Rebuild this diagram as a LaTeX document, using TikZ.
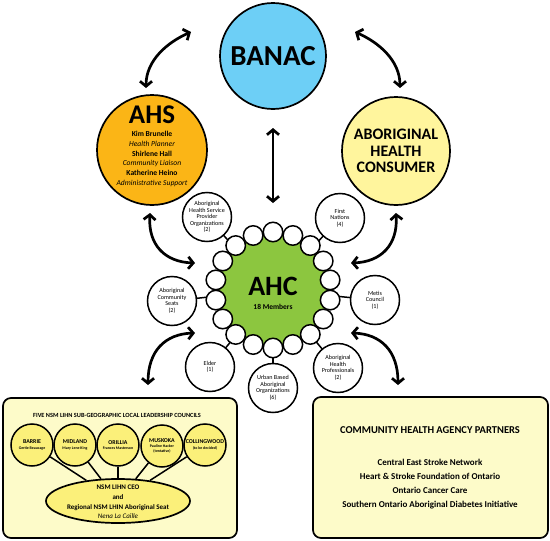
\documentclass[tikz,border=0pt]{standalone}
\usepackage{fontspec}
\setmainfont{Carlito}
\usetikzlibrary{arrows.meta,shapes.geometric,calc}
\pgfdeclarelayer{bg}
\pgfdeclarelayer{boxes}
\pgfdeclarelayer{links}
\pgfsetlayers{bg,boxes,links,main}
\definecolor{banacblue}{HTML}{6DCFF6}
\definecolor{ahsorange}{HTML}{FBB516}
\definecolor{consyellow}{HTML}{FFF59D}
\definecolor{ahcgreen}{HTML}{8CC63F}
\definecolor{boxcream}{HTML}{FDFBC9}
\definecolor{councilyellow}{HTML}{FBF07A}
\begin{document}
\begin{tikzpicture}[x=1pt,y=-1pt,
  bigc/.style={circle, draw, line width=1.7pt, inner sep=0pt, minimum size=#1},
  sat/.style={circle, draw, line width=1.5pt, fill=white, minimum size=49pt, inner sep=0pt, align=center, font=\fontsize{6.1}{6.6}\selectfont},
  bead/.style={circle, draw, line width=1.5pt, fill=white, minimum size=19.5pt, inner sep=0pt},
  council/.style={circle, draw, line width=1.5pt, fill=councilyellow, minimum size=42pt, inner sep=0pt, align=center, font=\fontsize{5.9}{6.3}\selectfont\bfseries},
  cname/.style={font=\fontsize{3.9}{4.6}\selectfont},
  linkline/.style={line width=1.5pt},
  dbl/.style={line width=2.7pt, {Straight Barb[length=5pt,width=12pt]}-{Straight Barb[length=5pt,width=12pt]}},
  panel/.style={draw, line width=1.7pt, rounded corners=8pt, fill=boxcream}
]
\begin{pgfonlayer}{bg}
\fill[white] (0,0) rectangle (550,541);
\end{pgfonlayer}
\useasboundingbox (0,0) rectangle (550,541);

% top circles
\node[bigc=106pt, fill=banacblue, font=\fontsize{29}{29}\selectfont\bfseries] (banac) at (273,56) {BANAC};
\node[bigc=110pt, fill=ahsorange] (ahs) at (152,150) {};
\node[font=\fontsize{27}{27}\selectfont\bfseries, inner sep=0pt] (ahst) at (152,115) {AHS};
\node[align=center, inner sep=0pt, font=\fontsize{7.6}{9.7}\selectfont] (ahsnames) at (152,159)
  {\textbf{Kim Brunelle}\\\textit{Health Planner}\\\textbf{Shirlene Hall}\\\textit{Community Liaison}\\\textbf{Katherine Heino}\\\textit{Administrative Support}};
\node[bigc=108pt, fill=consyellow, align=center, font=\fontsize{16}{16.5}\selectfont\bfseries] (cons) at (396,151) {ABORIGINAL\\HEALTH\\CONSUMER};

% AHC
\node[circle, draw, line width=1.7pt, fill=ahcgreen, minimum size=114pt, inner sep=0pt] (ahc) at (273,290) {};
\foreach \i in {0,...,17} {
  \node[bead] (b\i) at ($(ahc)+({10+20*\i}:58)$) {};
}
\node[font=\fontsize{28}{28}\selectfont\bfseries, inner sep=0pt] (ahct) at (273,286) {AHC};
\node[font=\fontsize{7.5}{8}\selectfont\bfseries, inner sep=0pt] (ahcm) at (273,307) {18 Members};

% satellites
\node[sat] (hsp) at (207,217) {Aboriginal\\Health Service\\Provider\\Organizations\\(2)};
\node[sat] (fn) at (340,218) {First\\Nations\\(4)};
\node[sat] (acs) at (172,301) {Aboriginal\\Community\\Seats\\(2)};
\node[sat] (metis) at (375,300) {Metis\\Council\\(1)};
\node[sat] (elder) at (210,367) {Elder\\(1)};
\node[sat] (urban) at (273,388) {Urban Based\\Aboriginal\\Organizations\\(6)};
\node[sat] (ahp) at (338,368) {Aboriginal\\Health\\Professionals\\(2)};
\begin{pgfonlayer}{links}
\foreach \s in {hsp,fn,acs,metis,elder,urban,ahp} {
  \draw[linkline] (\s.center) -- (ahc.center);
}
\end{pgfonlayer}

% arrows
\coordinate (a1s) at (146,88);  \coordinate (a1e) at (191,32);
\coordinate (a2s) at (400,88);  \coordinate (a2e) at (355,32);
\coordinate (a3s) at (273,128); \coordinate (a3e) at (273,203);
\coordinate (a4s) at (150,213); \coordinate (a4e) at (195,263);
\coordinate (a5s) at (195,333); \coordinate (a5e) at (148,385);
\coordinate (a6s) at (396,213); \coordinate (a6e) at (351,263);
\coordinate (a7s) at (351,333); \coordinate (a7e) at (398,385);
\draw[dbl] (a1s) .. controls (146,60) and (168,42) .. (a1e);
\draw[dbl] (a2s) .. controls (400,60) and (378,42) .. (a2e);
\draw[dbl] (a3s) -- (a3e);
\draw[dbl] (a4s) .. controls (148,245) and (165,262) .. (a4e);
\draw[dbl] (a5s) .. controls (165,334) and (148,351) .. (a5e);
\draw[dbl] (a6s) .. controls (398,245) and (381,262) .. (a6e);
\draw[dbl] (a7s) .. controls (381,334) and (398,351) .. (a7e);

% panels
\begin{pgfonlayer}{boxes}
\node[panel, minimum width=234pt, minimum height=140pt] (lbox) at (120,468) {};
\node[panel, minimum width=235pt, minimum height=141pt] (rbox) at (430.5,467.5) {};
\end{pgfonlayer}

% left panel
\node[font=\fontsize{6.3}{7}\selectfont\bfseries, inner sep=0pt] (ltitle) at (117,415) {FIVE NSM LIHN SUB-GEOGRAPHIC LOCAL LEADERSHIP COUNCILS};
\node[council] (barrie) at (32,445) {BARRIE\\[-1pt]{\fontsize{3.9}{4.6}\selectfont Gertie Beaucage}};
\node[council] (midland) at (75,445) {MIDLAND\\[-1pt]{\fontsize{3.9}{4.6}\selectfont Mary Lene King}};
\node[council] (orillia) at (118,445) {ORILLIA\\[-1pt]{\fontsize{3.9}{4.6}\selectfont Frances Masterson}};
\node[council] (muskoka) at (162,446) {MUSKOKA\\[-1pt]{\fontsize{3.9}{4.6}\selectfont Pauline Hacker}\\[-1.5pt]{\fontsize{3.9}{4.6}\selectfont (tentative)}};
\node[council] (colling) at (205,445) {COLLINGWOOD\\[-1pt]{\fontsize{3.9}{4.6}\selectfont (to be decided)}};
\node[ellipse, draw, line width=1.7pt, fill=councilyellow, minimum width=144pt, minimum height=44pt, inner sep=0pt] (ceo) at (118,501) {};
\node[align=center, inner sep=0pt, font=\fontsize{7}{9.7}\selectfont\bfseries] (ceot) at (118,502)
  {NSM LIHN CEO\\and\\Regional NSM LHIN Aboriginal Seat\\{\mdseries\itshape Nena La Caille}};
\begin{pgfonlayer}{links}
\foreach \c in {barrie,midland,orillia,muskoka,colling} {
  \draw[linkline] (\c) -- (ceo);
}
\end{pgfonlayer}

% right panel
\node[font=\fontsize{10.5}{12}\selectfont\bfseries, inner sep=0pt] (rtitle) at (430,430) {COMMUNITY HEALTH AGENCY PARTNERS};
\node[align=center, inner sep=0pt, font=\fontsize{9}{14}\selectfont\bfseries] (partners) at (430,484)
  {Central East Stroke Network\\Heart \& Stroke Foundation of Ontario\\Ontario Cancer Care\\Southern Ontario Aboriginal Diabetes Initiative};
\end{tikzpicture}
\end{document}
